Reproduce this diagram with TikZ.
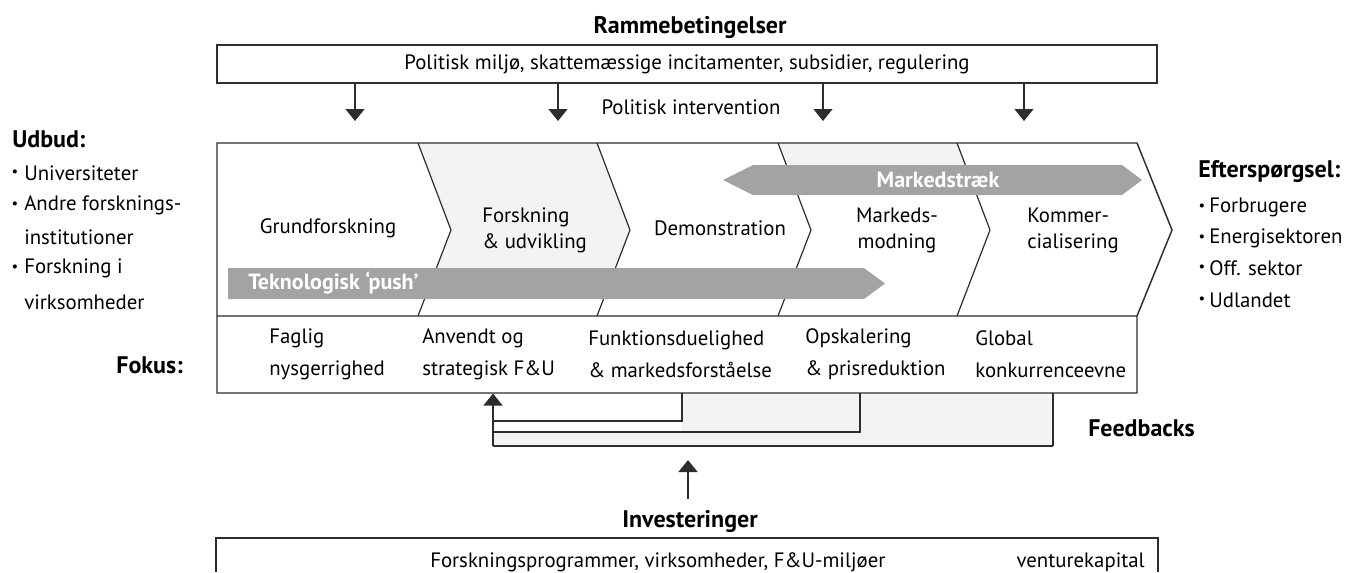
\documentclass[tikz,border=0pt]{standalone}
\usepackage{fontspec}
\setmainfont{PT Sans}
\usetikzlibrary{arrows.meta}
\definecolor{bandgray}{RGB}{163,163,163}
\definecolor{lightfill}{RGB}{243,243,243}
\definecolor{framecol}{RGB}{45,45,45}
\begin{document}
\begin{tikzpicture}[x=0.75pt,y=-0.75pt,
  txt/.style={font=\fontsize{15.6}{24}\selectfont, inner sep=0pt},
  chtxt/.style={font=\fontsize{15.6}{19.5}\selectfont, inner sep=0pt},
  lbl/.style={font=\fontsize{18}{20}\selectfont\bfseries, inner sep=0pt},
  bandtxt/.style={font=\fontsize{16.5}{18}\selectfont\bfseries, text=white, inner sep=0pt},
  bul/.style={font=\fontsize{11}{12}\selectfont, inner sep=0pt},
  arr/.style={line width=2pt, draw=framecol, -{Triangle[length=9pt,width=14pt]}},
  fb/.style={line width=1.9pt, draw=framecol},
  frame/.style={draw=framecol, line width=1.1pt},
  chev/.style={draw=framecol, line width=0.9pt}]
\useasboundingbox (0,0) rectangle (1345,572);

% ---------- top ----------
\node[lbl] (title) at (690,28) {Rammebetingelser};
\node[frame, minimum width=705pt, minimum height=28.5pt, inner sep=0pt,
      font=\fontsize{15.6}{18}\selectfont] (topbox) at (687,64)
  {Politisk miljø, skattemæssige incitamenter, subsidier, regulering};
\node[txt] (polint) at (691,107) {Politisk intervention};
\foreach \x/\n in {355/a1,558/a2,823/a3,1024/a4}{
  \coordinate (\n) at (\x,121);
  \draw[arr] (\n |- topbox.south) -- (\n);
}

% ---------- chevron fills ----------
\fill[lightfill] (418,143)--(597,143)--(630,230)--(615.4,268)--(436.4,268)--(451,230)--cycle;
\fill[lightfill] (778,143)--(957,143)--(965.3,165)--(786.3,165)--cycle;

% ---------- chevron lines ----------
\foreach \t in {418,597,778,957}{
  \draw[chev] (\t,143)--(\t+33,230)--(\t,316);
}
% ---------- frame ----------
\draw[frame] (1137,316)--(1137,393)--(217,393)--(217,143)--(1137,143)--(1172,230)--(1137,316)--(217,316);

% ---------- bands ----------
\fill[bandgray] (723,180)--(753,165)--(1122,165)--(1142,180)--(1122,195)--(753,195)--cycle;
\fill[bandgray] (228,268)--(864,268)--(885,283.5)--(864,299)--(228,299)--cycle;
\node[bandtxt] (mtraek) at (938,180) {Markedstræk};
\node[bandtxt, anchor=west] (push) at (248,283) {Teknologisk ‘push’};

% ---------- chevron texts ----------
\node[chtxt] (c1) at (328,228) {Grundforskning};
\node[chtxt, anchor=west, align=left] (c2) at (482,230) {Forskning\\\& udvikling};
\node[chtxt] (c3) at (720,228) {Demonstration};
\node[chtxt, align=center] (c4) at (897,230) {Markeds-\\modning};
\node[chtxt, anchor=west, align=left] (c5) at (1027,230) {Kommer-\\cialisering};

% ---------- focus row ----------
\node[lbl, anchor=east] (fokus) at (183,365) {Fokus:};
\node[txt, anchor=west, align=left] (f1t) at (269,354) {Faglig\\nysgerrighed};
\node[txt, anchor=west, align=left] (f2t) at (422,354) {Anvendt og\\strategisk F\&U};
\node[txt, anchor=west, align=left] (f3t) at (588,354) {Funktionsduelighed\\\& markedsforståelse};
\node[txt, anchor=west, align=left] (f4t) at (805,354) {Opskalering\\\& prisreduktion};
\node[txt, anchor=west, align=left] (f5t) at (975,354) {Global\\konkurrenceevne};

% ---------- left list ----------
\node[lbl, anchor=west] (udbud) at (12,139) {Udbud:};
\foreach \y/\n/\s in {173/u1/Universiteter,205/u2/Andre forsknings-,268/u4/Forskning i}{
  \node[bul] (\n b) at (15,\y) {•};
  \node[txt, anchor=west] (\n) at (24,\y) {\s};
}
\node[txt, anchor=west] (u3) at (24,237) {institutioner};
\node[txt, anchor=west] (u5) at (24,302) {virksomheder};

% ---------- right list ----------
\node[lbl, anchor=west] (efter) at (1198,172) {Efterspørgsel:};
\foreach \y/\n/\s in {207/e1/Forbrugere,238/e2/Energisektoren,268/e3/Off. sektor,300/e4/Udlandet}{
  \node[bul] (\n b) at (1202,\y) {•};
  \node[txt, anchor=west] (\n) at (1209,\y) {\s};
}

% ---------- feedbacks ----------
\fill[lightfill] (682,394) rectangle (1053,446);
\fill[lightfill] (493,432) rectangle (682,446);
\coordinate (fb1) at (682,393);
\coordinate (fb2) at (860,393);
\coordinate (fb3) at (1053,393);
\coordinate (fbin) at (493,393.5);
\coordinate (fbcorner) at (493,446);
\draw[fb] (fb1) |- (493,421);
\draw[fb] (fb2) |- (493,432);
\draw[draw=framecol, line width=1pt] (fb3) -- (1053,446);
\draw[fb] (1053,446) -- (fbcorner);
\draw[arr] (fbcorner) -- (fbin);
\node[lbl, anchor=west] (feedb) at (1088,428) {Feedbacks};

% ---------- investments ----------
\node[lbl] (invest) at (690,522) {Investeringer};
\coordinate (invtip) at (688,460);
\coordinate (invbase) at (688,499);
\draw[arr] (invbase) -- (invtip);
\coordinate (bl) at (216,572);
\coordinate (br) at (1158,572);
\draw[frame] (bl) -- (216,538) -- (1158,538) -- (br);
\node[txt, anchor=west] (inv1) at (430,562) {Forskningsprogrammer, virksomheder, F\&U-miljøer};
\node[txt, anchor=east] (inv2) at (1145,562) {venturekapital};
\end{tikzpicture}
\end{document}
